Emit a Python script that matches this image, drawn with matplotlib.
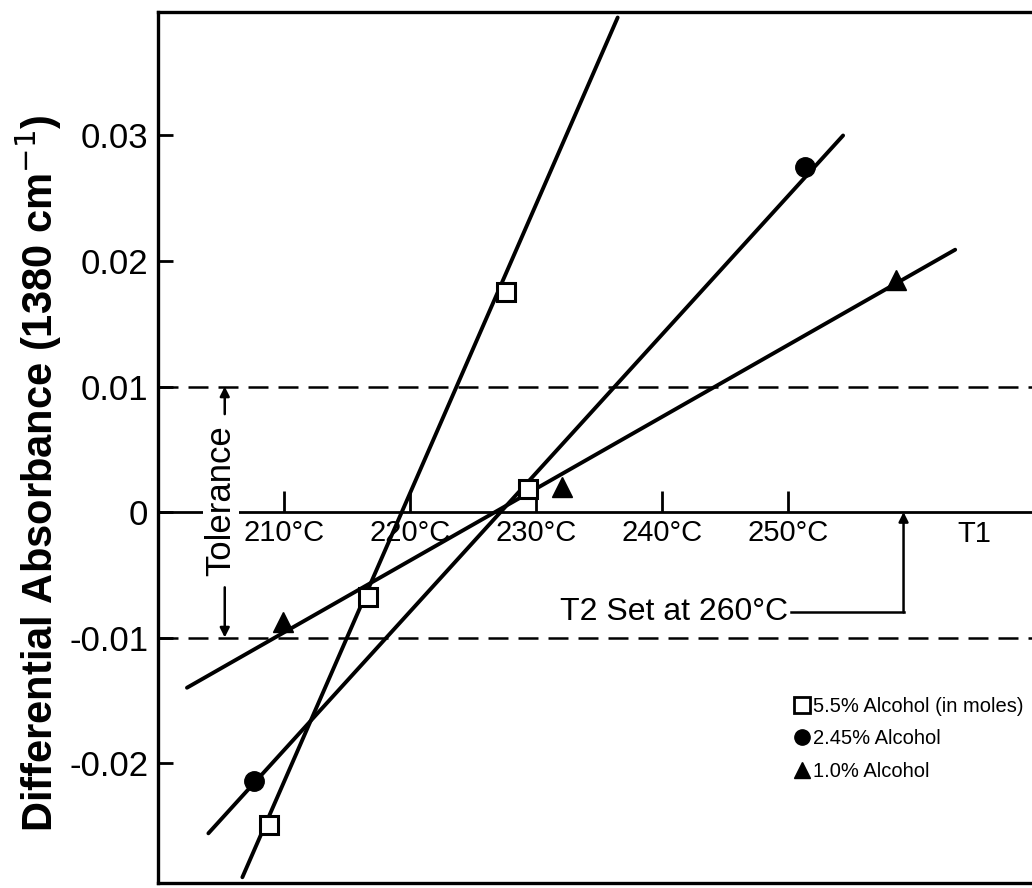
import matplotlib as mpl
mpl.use('Agg')
import matplotlib.pyplot as plt
from matplotlib.lines import Line2D

plt.rcParams['font.family'] = ['Liberation Sans', 'DejaVu Sans']
plt.rcParams['axes.unicode_minus'] = False

# --- data (T1 in degC, differential absorbance)

sq_x = [208.8, 216.7, 227.6, 229.4]          # 5.5% alcohol
sq_y = [-0.0249, -0.0068, 0.0175, 0.0018]
ci_x = [207.6, 229.4, 251.4]                 # 2.45% alcohol
ci_y = [-0.0214, 0.0018, 0.0275]
tr_x = [209.9, 232.1, 258.6]                 # 1.0% alcohol
tr_y = [-0.0088, 0.0020, 0.0185]

# fitted lines (end points)
sq_fit_x = [206.7, 236.5]
sq_fit_y = [-0.0291, 0.0394]
ci_fit_x = [204.0, 254.4]
ci_fit_y = [-0.0256, 0.0300]
tr_fit_x = [202.3, 263.3]
tr_fit_y = [-0.0140, 0.0209]

tolerance = 0.01
t2_set = 259.2
t2_label_y = -0.0080

xticks = [210, 220, 230, 240, 250]
xticklabels = ['210°C', '220°C', '230°C', '240°C', '250°C']
yticks = [0.03, 0.02, 0.01, 0.0, -0.01, -0.02]
yticklabels = ['0.03', '0.02', '0.01', '0', '-0.01', '-0.02']

labels = ['5.5% Alcohol (in moles)', '2.45% Alcohol', '1.0% Alcohol']

xlim = [200.0, 269.4]
ylim = [-0.02956, 0.03984]

# ----------------------------------------------------------------------

fig = plt.figure(figsize=(10.32, 8.88), dpi=100)
ax = fig.add_axes([0.1531, 0.0056, 0.8469, 0.9809])
ax.set_xlim(xlim)
ax.set_ylim(ylim)

lw_frame = 2.4
for s in ['left', 'top']:
    ax.spines[s].set_linewidth(lw_frame)
ax.spines['right'].set_visible(False)
ax.spines['bottom'].set_position(('data', 0))
ax.spines['bottom'].set_linewidth(2.0)
ax.axhline(ylim[0], color='k', lw=lw_frame, clip_on=False)

ax.set_xticks(xticks)
ax.set_xticklabels(xticklabels)
ax.set_yticks(yticks)
ax.set_yticklabels(yticklabels)
ax.tick_params(axis='x', direction='in', length=15, width=2, labelsize=21, pad=5)
ax.tick_params(axis='y', direction='in', length=11, width=2, labelsize=25, pad=7)

ax.text(264.8, -0.0006, 'T1', fontsize=21, ha='center', va='top', zorder=4)

# --- tolerance band
for yy in [tolerance, -tolerance]:
    ax.axhline(yy, color='k', lw=1.8, linestyle=(0, (8, 4)))

ax.text(205.0, 0.0009, 'Tolerance', rotation=90, fontsize=25, ha='center', va='center',
        zorder=5, bbox=dict(facecolor='white', edgecolor='none', pad=1))
arrow = dict(arrowstyle='-|>', color='k', lw=1.8, mutation_scale=14, shrinkA=0, shrinkB=0)
ax.annotate('', xy=(205.3, tolerance), xytext=(205.3, 0.0078), arrowprops=arrow)
ax.annotate('', xy=(205.3, -tolerance), xytext=(205.3, -0.0060), arrowprops=arrow)

# --- T2 set point
ax.text(250.0, t2_label_y, 'T2 Set at 260°C', fontsize=23, ha='right', va='center')
ax.plot([250.3, t2_set], [t2_label_y, t2_label_y], color='k', lw=1.8)
ax.annotate('', xy=(t2_set, 0.0), xytext=(t2_set, t2_label_y), arrowprops=arrow)

# --- fitted lines
for fx, fy in [(sq_fit_x, sq_fit_y), (ci_fit_x, ci_fit_y), (tr_fit_x, tr_fit_y)]:
    ax.plot(fx, fy, color='k', lw=2.8, solid_capstyle='round', zorder=3)

# --- data points
ax.plot(ci_x, ci_y, 'o', ms=14, mfc='k', mec='k', zorder=4)
ax.plot(tr_x, tr_y, '^', ms=14, mfc='k', mec='k', zorder=4)
ax.plot(sq_x, sq_y, 's', ms=13, mfc='white', mec='k', mew=2.2, zorder=5)

handles = [Line2D([], [], marker='s', ls='none', ms=11, mfc='white', mec='k', mew=2),
           Line2D([], [], marker='o', ls='none', ms=11, mfc='k', mec='k'),
           Line2D([], [], marker='^', ls='none', ms=12, mfc='k', mec='k')]
ax.legend(handles, labels, loc='upper left', bbox_to_anchor=(0.762, 0.226),
          bbox_transform=fig.transFigure, frameon=False, fontsize=14.5,
          handlelength=0.6, handletextpad=0.2, labelspacing=0.65, borderpad=0)

ax.set_ylabel('Differential Absorbance (1380 cm$^{-1}$)', fontsize=30,
              fontweight='bold')
ax.yaxis.set_label_coords(-0.108, 0.471)

fig.savefig('out.png', dpi=100)
